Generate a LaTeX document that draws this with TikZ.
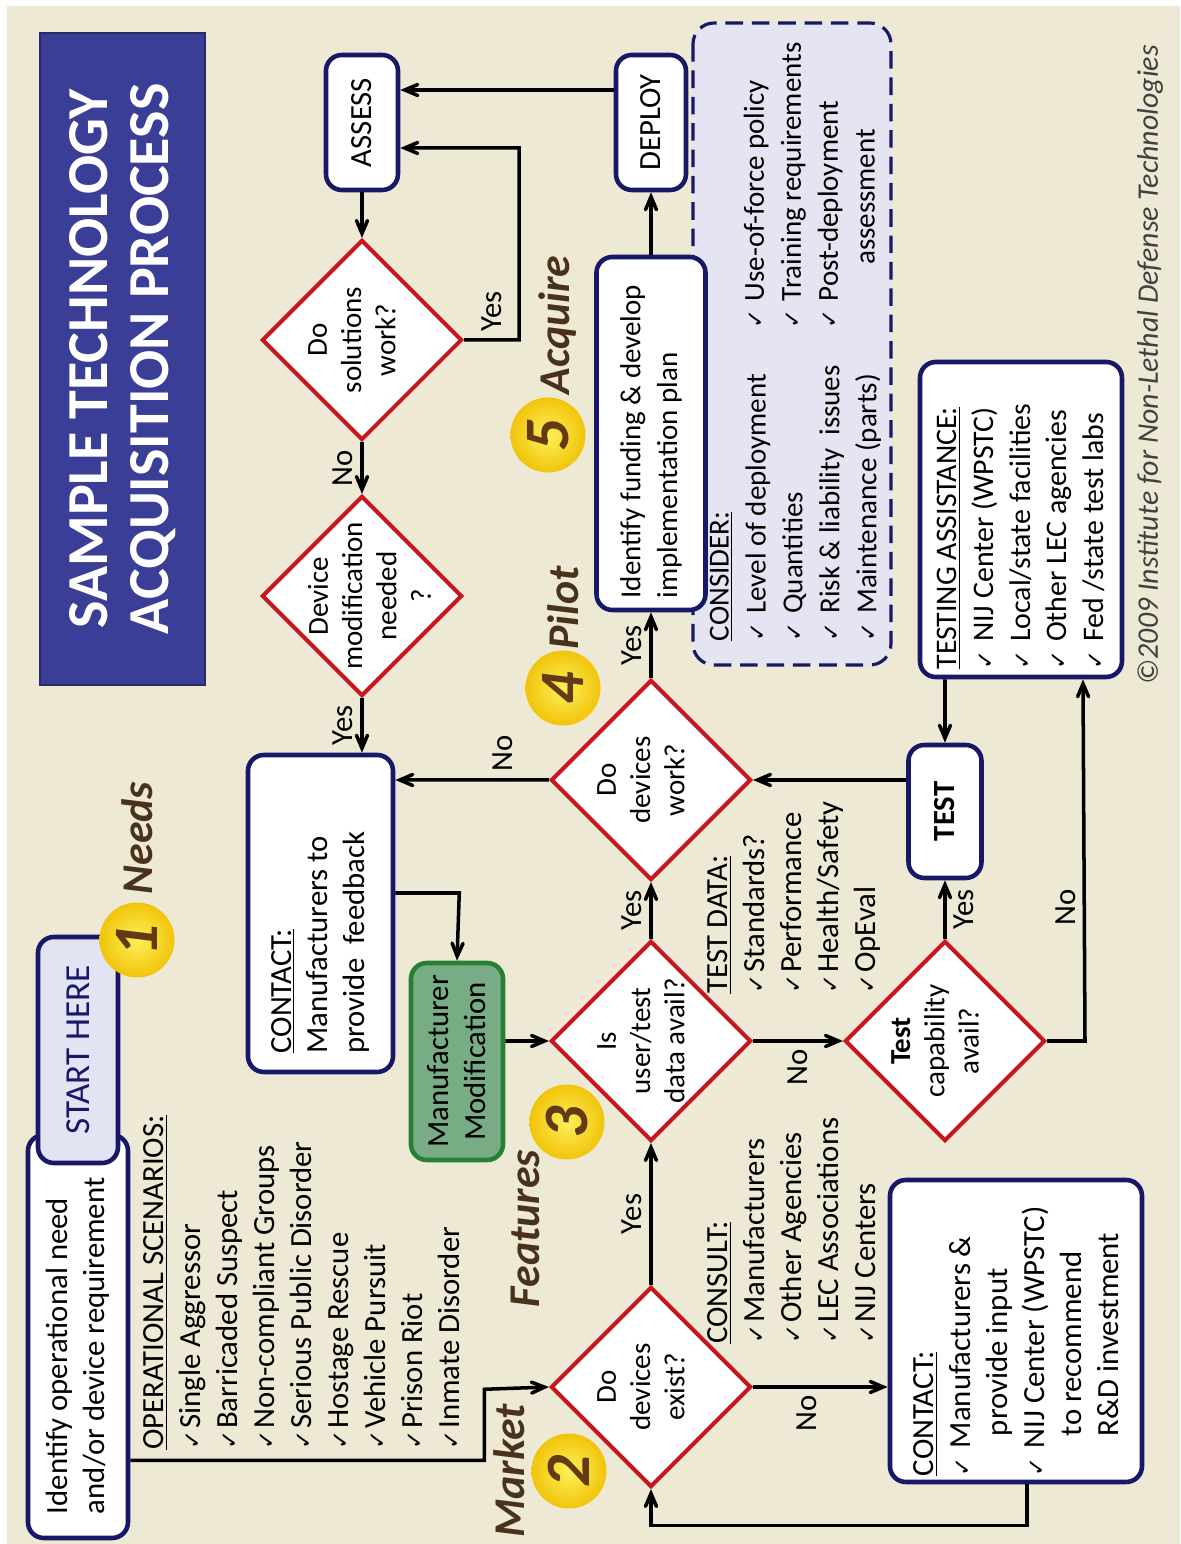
\documentclass[tikz,border=0pt]{standalone}
\usepackage{fontspec}
\setmainfont{Carlito}
\newfontfamily\symfont{DejaVu Sans}
\usetikzlibrary{shapes.geometric, arrows, positioning}

\definecolor{bgbeige}{RGB}{238,233,212}
\definecolor{navy}{RGB}{24,24,105}
\definecolor{titleblue}{RGB}{58,62,150}
\definecolor{startfill}{RGB}{226,227,243}
\definecolor{diared}{RGB}{200,22,32}
\definecolor{modgreen}{RGB}{120,172,132}
\definecolor{modborder}{RGB}{40,128,52}
\definecolor{considerfill}{RGB}{228,228,242}
\definecolor{coinyellow}{RGB}{240,196,10}
\definecolor{coinlight}{RGB}{255,240,90}
\definecolor{stagebrown}{RGB}{72,50,28}
\definecolor{numbrown}{RGB}{100,58,20}

\newcommand{\chk}{{\symfont\fontsize{13}{13}\selectfont ✓}\hspace{1pt}}
\newcommand{\bodyfont}{\fontsize{17.5}{21}\selectfont}

\tikzstyle{titlebox} = [rectangle, fill=titleblue, draw=titleblue!70!black, line width=1pt, minimum width=13.04cm, minimum height=3.3cm, text=white, font=\fontsize{33}{35}\selectfont\bfseries, align=center]
\tikzstyle{process} = [rectangle, rounded corners=9pt, draw=navy, line width=2.6pt, fill=white, inner sep=0pt, font=\bodyfont, align=flush left]
\tikzstyle{startbox} = [process, fill=startfill, text=navy, font=\fontsize{20}{22}\selectfont, align=center]
\tikzstyle{modbox} = [rectangle, rounded corners=9pt, draw=modborder, line width=2.6pt, fill=modgreen, font=\bodyfont, align=center]
\tikzstyle{decision} = [diamond, aspect=1, minimum width=4cm, minimum height=4cm, inner sep=0pt, draw=diared, line width=2.3pt, fill=white]
\tikzstyle{dtext} = [align=center, font=\fontsize{16.5}{19.5}\selectfont, yshift=0.2cm]
\tikzstyle{notes} = [anchor=north west, align=flush left, inner sep=0pt, font=\bodyfont]
\tikzstyle{considerbox} = [rectangle, rounded corners=12pt, draw=navy, dash pattern=on 10pt off 5pt, line width=1.8pt, fill=considerfill]
\tikzstyle{coin} = [circle, minimum size=1.5cm, inner sep=0pt, inner color=coinlight, outer color=coinyellow, text=numbrown, font=\fontsize{36}{36}\selectfont\bfseries\itshape]
\tikzstyle{stage} = [inner sep=0pt, text=stagebrown, font=\fontsize{25}{25}\selectfont\bfseries\itshape]
\tikzstyle{answer} = [inner sep=4pt, font=\bodyfont]
\tikzstyle{arrow} = [line width=2pt, ->, >=angle 45]

\begin{document}
\begin{tikzpicture}[rotate=90, transform shape]
\useasboundingbox (0,0) rectangle (30.88,23.6);
\fill [bgbeige] (0,0) rectangle (30.76,23.46);

% Title
\node (title) [titlebox] at (23.7,21.15) {SAMPLE TECHNOLOGY\\ACQUISITION PROCESS};

% Nodes
\node (identify) [process, minimum width=8.06cm, minimum height=2cm, text width=7.1cm] at (4.15,22.04) {Identify operational need\\and/or device requirement};
\node (start) [startbox, minimum width=4.52cm, minimum height=1.6cm] at (9.88,22.04) {START HERE};
\node (scenarios) [notes] at (1.88,20.73) {\underline{OPERATIONAL SCENARIOS:}\\
  \chk Single Aggressor\\
  \chk Barricaded Suspect\\
  \chk Non-compliant Groups\\
  \chk Serious Public Disorder\\
  \chk Hostage Rescue\\
  \chk Vehicle Pursuit\\
  \chk Prison Riot\\
  \chk Inmate Disorder};

\node (feedback) [process, minimum width=6.34cm, minimum height=2.9cm, text width=5.6cm] at (12.61,17.19) {\underline{CONTACT:}\\Manufacturers to\\provide\ \ feedback};
\node (modif) [modbox, minimum width=3.94cm, minimum height=1.84cm] at (9.65,14.46) {Manufacturer\\Modification};

\node (exist) [decision, label={[dtext]center:Do\\devices\\exist?}] at (3.14,10.58) {};
\node (user) [decision, label={[dtext]center:Is\\user/test\\data avail?}] at (10.06,10.58) {};
\node (work) [decision, label={[dtext]center:Do\\devices\\work?}] at (15.28,10.58) {};
\node (testcap) [decision, label={[dtext]center:{\bfseries Test}\\capability\\avail?}] at (10.06,4.7) {};
\node (solutions) [decision, label={[dtext]center:Do\\solutions\\work?}] at (24.08,16.36) {};
\node (devmod) [decision, label={[dtext, yshift=-0.35cm]center:Device\\modification\\needed\\?}] at (18.96,16.36) {};

\node (consult) [notes] at (4.0,9.45) {\underline{CONSULT:}\\
  \chk Manufacturers\\
  \chk Other Agencies\\
  \chk LEC Associations\\
  \chk NIJ Centers};
\node (testdata) [notes] at (11.0,9.45) {\underline{TEST DATA:}\\
  \chk Standards?\\
  \chk Performance\\
  \chk Health/Safety\\
  \chk OpEval};

\node (contact) [process, minimum width=6.04cm, minimum height=5.04cm, text width=5.8cm] at (4.26,3.28) {\underline{CONTACT:}\\
  \chk\ Manufacturers \&\\
  \hspace*{1.3em}provide input\\
  \chk\ NIJ Center (WPSTC)\\
  \hspace*{1.3em}to recommend\\
  \hspace*{1.3em}R\&D investment};
\node (test) [process, minimum width=2.66cm, minimum height=1.46cm, align=center, font=\bodyfont\bfseries] at (14.65,4.7) {TEST};
\node (testing) [process, minimum width=6.3cm, minimum height=4.04cm, text width=6.0cm, font=\fontsize{17}{21}\selectfont] at (20.49,3.18) {\underline{TESTING ASSISTANCE:}\\
  \chk\ NIJ Center (WPSTC)\\
  \chk\ Local/state facilities\\
  \chk\ Other LEC agencies\\
  \chk\ Fed /state test labs};

\node (consider) [considerbox, minimum width=12.84cm, minimum height=3.96cm] at (24.0,7.76) {};
\node (considerleft) [notes, font=\fontsize{16.5}{21}\selectfont] at (18.05,9.41) {\underline{CONSIDER:}\\
  \chk\ Level of deployment\\
  \chk\ Quantities\\
  \chk\ Risk \& liability\ \ issues\\
  \chk\ Maintenance (parts)};
\node (considerright) [notes, font=\fontsize{16.5}{21}\selectfont] at (24.3,8.73) {\chk\ Use-of-force policy\\
  \chk\ Training requirements\\
  \chk\ Post-deployment\\
  \hspace*{2.2em}assessment};

\node (funding) [process, minimum width=7.06cm, minimum height=2.18cm, text width=6.6cm, font=\fontsize{16.5}{21}\selectfont] at (22.21,10.58) {Identify funding \& develop\\implementation plan};
\node (deploy) [process, minimum width=2.7cm, minimum height=1.4cm, align=center] at (28.43,10.58) {DEPLOY};
\node (assess) [process, minimum width=2.7cm, minimum height=1.44cm, align=center] at (28.43,16.36) {ASSESS};

% Arrows
\draw [arrow] ([xshift=1.6cm]identify.south west) -- ++(0,-7.08) -- ++(1.42,0) -- (exist.north);
\draw [arrow] (exist.east) -- node[answer, above] {Yes} (user.west);
\draw [arrow] (exist.south) -- node[answer, left, pos=0.4] {No} ([xshift=-1.12cm]contact.north);
\draw [arrow] ([yshift=-0.22cm]contact.west) -- ++(-0.82,0) -- ++(0,7.52) -- (exist.west);
\draw [arrow] ([xshift=0.41cm]modif.south) -- (user.north);
\draw [arrow] ([xshift=0.41cm]feedback.south) -- ++(0,-1.28) -- (modif.east);
\draw [arrow] (user.east) -- node[answer, above] {Yes} (work.west);
\draw [arrow] (user.south) -- node[answer, left] {No} (testcap.north);
\draw [arrow] (testcap.east) -- node[answer, below] {Yes} (test.west);
\draw [arrow] (testcap.south) -- ++(0,-0.76) -- node[answer, above, pos=0.37] {No} ([yshift=-1.24cm]testing.west);
\draw [arrow] ([yshift=1.52cm]testing.west) -- (test.east);
\draw [arrow] ([xshift=0.63cm]test.north) -- (work.south);
\draw [arrow] (work.north) -- node[answer, right, pos=0.3] {No} ([xshift=2.67cm]feedback.south);
\draw [arrow] (work.east) -- node[answer, above] {Yes} (funding.west);
\draw [arrow] (funding.east) -- (deploy.west);
\draw [arrow] ([xshift=0.65cm]deploy.north) -- ([xshift=0.65cm]assess.south);
\draw [arrow] (assess.west) -- (solutions.east);
\draw [arrow] (solutions.south) -- node[answer, right] {Yes} ++(0,-1.1) -- ++(3.84,0) -- ([xshift=-0.51cm]assess.south);
\draw [arrow] (solutions.west) -- node[answer, above] {No} (devmod.east);
\draw [arrow] (devmod.west) -- node[answer, above] {Yes} ([yshift=-0.83cm]feedback.east);

% Stages
\node (c1) [coin] at (12.08,20.86) {1};
\node (needs) [stage, right=0.15cm of c1] {Needs};
\node (c2) [coin] at (1.46,12.22) {2};
\node (market) [stage, above=0.12cm of c2] {Market};
\node (c3) [coin] at (8.44,12.26) {3};
\node (features) [stage] at (6.31,13.1) {Features};
\node (c4) [coin] at (17.12,12.34) {4};
\node (pilot) [stage, right=0cm of c4] {Pilot};
\node (c5) [coin] at (22.18,12.64) {5};
\node (acquire) [stage, right=0.05cm of c5, yshift=-0.2cm] {Acquire};

\node (copyright) [anchor=east, font=\fontsize{17}{17}\selectfont\itshape, text=black!75] at (30.1,0.6) {©2009 Institute for Non-Lethal Defense Technologies};

\end{tikzpicture}
\end{document}
